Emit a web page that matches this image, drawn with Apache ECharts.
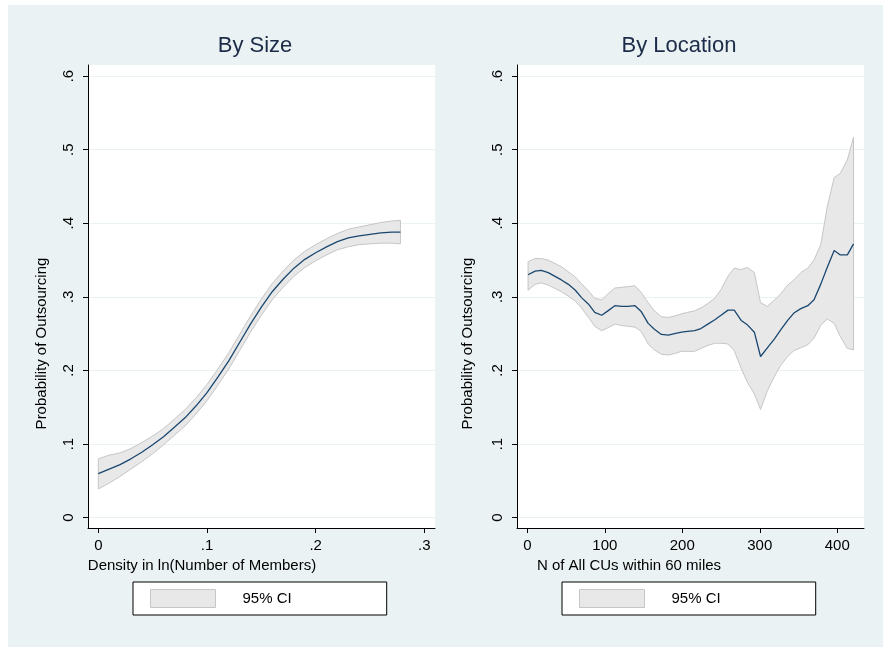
<!DOCTYPE html>
<html>
<head>
<meta charset="utf-8">
<script src="https://cdn.jsdelivr.net/npm/echarts@6/dist/echarts.min.js"></script>
<style>
  html, body { margin: 0; padding: 0; background: #fff; }
  #main { width: 883px; height: 647px; }
</style>
</head>
<body>
<div id="main"></div>
<script>
// left panel: by size
var sizeX = [0, 0.01, 0.02, 0.03, 0.04, 0.05, 0.06, 0.07, 0.08, 0.09, 0.10, 0.11, 0.12, 0.13, 0.14,
             0.15, 0.16, 0.17, 0.18, 0.19, 0.20, 0.21, 0.22, 0.23, 0.24, 0.25, 0.26, 0.27, 0.278];
var sizeMean = [0.060, 0.066, 0.072, 0.080, 0.089, 0.099, 0.110, 0.123, 0.136, 0.152, 0.170, 0.191, 0.213, 0.238, 0.263,
                0.286, 0.307, 0.324, 0.339, 0.351, 0.360, 0.368, 0.375, 0.380, 0.383, 0.385, 0.387, 0.388, 0.388];
var sizeLo = [0.039, 0.047, 0.056, 0.066, 0.076, 0.087, 0.099, 0.112, 0.125, 0.141, 0.159, 0.180, 0.202, 0.227, 0.252,
              0.275, 0.296, 0.313, 0.328, 0.340, 0.349, 0.357, 0.364, 0.368, 0.371, 0.372, 0.373, 0.373, 0.372];
var sizeHi = [0.080, 0.085, 0.088, 0.094, 0.102, 0.111, 0.121, 0.134, 0.147, 0.163, 0.181, 0.202, 0.224, 0.249, 0.274,
              0.297, 0.318, 0.335, 0.350, 0.362, 0.371, 0.379, 0.386, 0.392, 0.395, 0.398, 0.401, 0.403, 0.404];

// right panel: by location
var locX = [1, 10, 18, 27, 44, 53, 62, 70, 79, 87, 96, 104, 113, 122, 130, 139, 147, 156, 164, 173, 182, 190, 199,
            207, 216, 224, 233, 242, 250, 259, 267, 276, 284, 293, 301, 310, 319, 327, 336, 344, 353, 362, 370,
            379, 387, 396, 404, 413, 421];
var locMean = [0.330, 0.335, 0.336, 0.333, 0.323, 0.317, 0.309, 0.299, 0.290, 0.279, 0.275, 0.281, 0.288, 0.287,
               0.287, 0.288, 0.280, 0.264, 0.256, 0.249, 0.248, 0.250, 0.252, 0.253, 0.254, 0.257, 0.263, 0.269,
               0.275, 0.282, 0.282, 0.268, 0.262, 0.252, 0.219, 0.231, 0.243, 0.255, 0.268, 0.278, 0.284, 0.288,
               0.296, 0.318, 0.340, 0.363, 0.357, 0.357, 0.372];
var locLo = [0.309, 0.317, 0.319, 0.316, 0.307, 0.301, 0.294, 0.285, 0.272, 0.260, 0.254, 0.258, 0.263, 0.261,
             0.260, 0.259, 0.253, 0.236, 0.228, 0.222, 0.221, 0.223, 0.226, 0.226, 0.226, 0.230, 0.234, 0.237,
             0.237, 0.236, 0.227, 0.203, 0.184, 0.168, 0.147, 0.173, 0.192, 0.207, 0.219, 0.227, 0.231, 0.235,
             0.244, 0.262, 0.270, 0.264, 0.246, 0.230, 0.228];
var locHi = [0.348, 0.352, 0.352, 0.350, 0.341, 0.334, 0.327, 0.318, 0.308, 0.298, 0.296, 0.304, 0.312, 0.313,
             0.314, 0.315, 0.306, 0.292, 0.281, 0.273, 0.272, 0.274, 0.277, 0.279, 0.281, 0.285, 0.291, 0.298,
             0.310, 0.328, 0.339, 0.337, 0.340, 0.333, 0.292, 0.287, 0.296, 0.304, 0.316, 0.323, 0.333, 0.339,
             0.350, 0.372, 0.422, 0.462, 0.468, 0.486, 0.517];

var yTicks = [0, 0.1, 0.2, 0.3, 0.4, 0.5, 0.6];
var sizeTicks = [0, 0.1, 0.2, 0.3];
var locTicks = [0, 100, 200, 300, 400];
var panelTitles = ['By Size', 'By Location'];
var xTitles = ['Density in ln(Number of Members)', 'N of All CUs within 60 miles'];
var yTitle = 'Probability of Outsourcing';
var ciName = '95% CI';

var FONT = '"Liberation Sans", Arial, sans-serif';
var BG = '#eaf2f3';
var LINE = '#1a476f';
var BAND = '#e8e8e8';
var BAND_EDGE = '#c6c6c6';

function fmt(v) {
    if (v === 0) return '0';
    var s = String(+v.toFixed(2));
    return s.replace(/^0\./, '.');
}

function bandData(xs, lo, hi) {
    return xs.map(function (x, i) { return [x, lo[i], hi[i]]; });
}

function pairs(xs, ys) {
    return xs.map(function (x, i) { return [x, ys[i]]; });
}

function bandRenderer(xs, lo, hi) {
    return function (params, api) {
        if (params.dataIndex !== 0) return null;
        var pts = [];
        for (var i = 0; i < xs.length; i++) pts.push(api.coord([xs[i], hi[i]]));
        for (var j = xs.length - 1; j >= 0; j--) pts.push(api.coord([xs[j], lo[j]]));
        return {
            type: 'polygon',
            shape: { points: pts },
            style: { fill: BAND, stroke: BAND_EDGE, lineWidth: 1 }
        };
    };
}

function xAxisOf(idx, min, max, ticks, name, pad) {
    return {
        type: 'value', gridIndex: idx, min: min, max: max,
        name: name, nameLocation: 'middle', nameGap: 27,
        nameTextStyle: { fontFamily: FONT, fontSize: 15, color: '#000', padding: [0, pad, 0, 0] },
        axisLine: { show: true, onZero: false, lineStyle: { color: '#000', width: 1 } },
        axisTick: { show: true, length: 5, customValues: ticks, lineStyle: { color: '#000' } },
        axisLabel: { customValues: ticks, formatter: fmt, margin: 10, fontFamily: FONT, fontSize: 15, color: '#000' },
        splitLine: { show: false }
    };
}

function yAxisOf(idx, gap) {
    return {
        type: 'value', gridIndex: idx, min: -0.014, max: 0.615,
        name: yTitle, nameLocation: 'middle', nameGap: gap,
        nameTextStyle: { fontFamily: FONT, fontSize: 15, color: '#000', padding: [0, 94, 0, 0] },
        axisLine: { show: true, onZero: false, lineStyle: { color: '#000', width: 1 } },
        axisTick: { show: true, length: 5, customValues: yTicks, lineStyle: { color: '#000' } },
        axisLabel: { customValues: yTicks, formatter: fmt, rotate: 90, margin: 12,
                     fontFamily: FONT, fontSize: 15, color: '#000' },
        splitLine: { show: true, lineStyle: { color: BG, width: 1 } }
    };
}

function legendOf(left) {
    return {
        left: left, top: 582, orient: 'horizontal',
        data: [ciName],
        selectedMode: false,
        backgroundColor: '#fff', borderColor: '#000', borderWidth: 1, borderRadius: 0,
        padding: [7, 95, 7, 17],
        itemWidth: 65, itemHeight: 18, icon: 'rect',
        itemStyle: { color: BAND, borderColor: BAND_EDGE, borderWidth: 1 },
        textStyle: { fontFamily: FONT, fontSize: 15, color: '#000', padding: [0, 0, 0, 22] }
    };
}

function titleOf(text, x) {
    return {
        text: text, left: x, top: 30, textAlign: 'center',
        textStyle: { fontFamily: FONT, fontSize: 22, fontWeight: 'normal', color: '#1c2b48' }
    };
}

var chart = echarts.init(document.getElementById('main'), null, { renderer: 'canvas' });

var option = {
    animation: false,
    backgroundColor: '#fff',
    textStyle: { fontFamily: FONT },
    graphic: [{
        type: 'rect', left: 8, top: 5, z: -10, silent: true,
        shape: { width: 875, height: 642 },
        style: { fill: BG }
    }],
    title: [titleOf(panelTitles[0], 250), titleOf(panelTitles[1], 674)],
    legend: [legendOf(133), legendOf(562)],
    grid: [
        { left: 88, top: 65, width: 347, height: 463, show: true, backgroundColor: '#fff', borderWidth: 0 },
        { left: 517, top: 65, width: 347, height: 463, show: true, backgroundColor: '#fff', borderWidth: 0 }
    ],
    xAxis: [
        xAxisOf(0, -0.0095, 0.3098, sizeTicks, xTitles[0], 119),
        xAxisOf(1, -13.3, 434.5, locTicks, xTitles[1], 123)
    ],
    yAxis: [yAxisOf(0, 39), yAxisOf(1, 42)],
    series: [
        {
            name: ciName, type: 'custom', xAxisIndex: 0, yAxisIndex: 0, z: 1,
            renderItem: bandRenderer(sizeX, sizeLo, sizeHi),
            encode: { x: 0, y: [1, 2] },
            itemStyle: { color: BAND, borderColor: BAND_EDGE },
            data: bandData(sizeX, sizeLo, sizeHi)
        },
        {
            name: 'Predicted', type: 'line', xAxisIndex: 0, yAxisIndex: 0, z: 3,
            showSymbol: false, symbol: 'none',
            lineStyle: { color: LINE, width: 1.3 },
            data: pairs(sizeX, sizeMean)
        },
        {
            name: ciName, type: 'custom', xAxisIndex: 1, yAxisIndex: 1, z: 1,
            renderItem: bandRenderer(locX, locLo, locHi),
            encode: { x: 0, y: [1, 2] },
            itemStyle: { color: BAND, borderColor: BAND_EDGE },
            data: bandData(locX, locLo, locHi)
        },
        {
            name: 'Predicted', type: 'line', xAxisIndex: 1, yAxisIndex: 1, z: 3,
            showSymbol: false, symbol: 'none',
            lineStyle: { color: LINE, width: 1.3 },
            data: pairs(locX, locMean)
        }
    ]
};

chart.setOption(option);
window.addEventListener('resize', function () { chart.resize(); });
</script>
</body>
</html>
